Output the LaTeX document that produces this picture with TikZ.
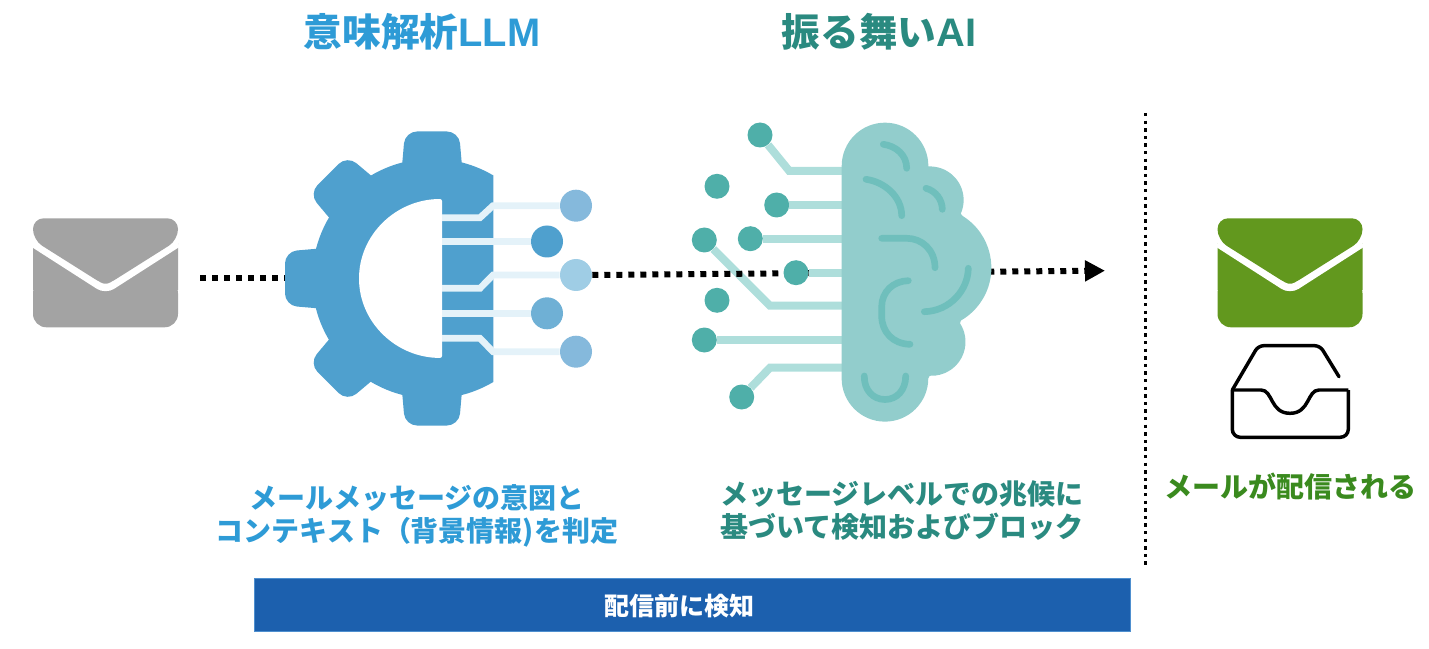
\documentclass[tikz,border=0pt]{standalone}
\usepackage{fontspec}
\setmainfont{Noto Sans CJK JP}
\newfontfamily\latinfont[Scale=1.03]{Liberation Sans}
\usetikzlibrary{arrows.meta}
\definecolor{gearblue}{HTML}{4FA0CE}
\definecolor{gearline}{HTML}{E4F2F9}
\definecolor{gdota}{HTML}{85B9DC}
\definecolor{gdotb}{HTML}{4FA0CE}
\definecolor{gdotc}{HTML}{9FCDE5}
\definecolor{gdotd}{HTML}{6FB0D5}
\definecolor{brainfill}{HTML}{92CDCC}
\definecolor{brainfold}{HTML}{6FBFBC}
\definecolor{brainline}{HTML}{AEDEDB}
\definecolor{braindot}{HTML}{4FAFA9}
\definecolor{titleblue}{HTML}{2E9BD6}
\definecolor{titleteal}{HTML}{2A8A80}
\definecolor{mailgrey}{HTML}{A3A3A3}
\definecolor{mailgreen}{HTML}{62981E}
\definecolor{textgreen}{HTML}{3A8A1E}
\definecolor{barblue}{HTML}{1C60AE}
\definecolor{baredge}{HTML}{4E8FCF}

\begin{document}
\begin{tikzpicture}[x=0.75pt,y=-0.75pt]
    \tikzstyle{gdot}=[circle,inner sep=0pt,minimum size=24pt]
    \tikzstyle{bdot}=[circle,fill=braindot,inner sep=0pt,minimum size=18.75pt]
    \tikzstyle{glink}=[gearline,line width=5pt]
    \tikzstyle{blink}=[brainline,line width=6pt]
    \tikzstyle{fold}=[brainfold,line width=5pt,line cap=round]
    \tikzstyle{flow}=[black,line width=4.5pt,dash pattern=on 4.5pt off 4.5pt]
    \tikzstyle{title}=[font=\fontsize{29}{34}\selectfont\bfseries]
    \tikzstyle{caption}=[font=\fontsize{21}{24.5}\selectfont\bfseries,align=center]
    \useasboundingbox (0,0) rectangle (1429,649);

    % titles
    \node (semtitle)[title,text=titleblue] at (422,32) {意味解析{\latinfont LLM}};
    \node (aititle)[title,text=titleteal] at (879,32) {振る舞い{\latinfont AI}};

    % mails
    \foreach \mx/\mcol in {33/mailgrey,1217.5/mailgreen} {
        \fill[\mcol,rounded corners=10pt] (\mx,280) rectangle ++(145,47.3);
        \fill[\mcol] (\mx,243.5) -- ++(72.5,46.5) -- ++(72.5,-46.5) -- ++(0,46.5) -- ++(-145,0) -- cycle;
        \draw[white,line width=5.5pt,rounded corners=6pt] (\mx,243.5) -- ++(72.5,46.5) -- ++(72.5,-46.5);
        \fill[\mcol,rounded corners=8pt] (\mx,218.3) -- ++(145,0) -- ++(0,21.7) -- ++(-72.5,45.7) -- ++(-72.5,-45.7) -- cycle;
    }

    % flow in
    \coordinate (mailout) at (200,278);
    \coordinate (gearin) at (300,278);
    \draw[flow] (mailout) -- (gearin);

    % gear
    \foreach \a in {90,135,180,225,270} {
        \fill[gearblue,rounded corners=9pt,shift={(432,278.5)},rotate=\a] (95,-31.5) -- (147,-27) -- (147,27) -- (95,31.5) -- cycle;
    }
    \fill[gearblue] (493.3,175) -- (493.3,382) arc[start angle=-59.4,end angle=-300.6,radius=90pt] -- cycle;
    \fill[white,rounded corners=1.5pt] (442,199) arc[start angle=90,end angle=270,x radius=62.25pt,y radius=59.6pt] -- cycle;
    \foreach \n/\ya/\yb/\xd/\col in {1/217.7/205.7/576/gdota,2/241.5/241.5/547/gdotb,3/288.3/275/576/gdotc,4/313.3/313.3/547/gdotd,5/338.3/351.7/576/gdota} {
        \node (g\n)[gdot,fill=\col] at (\xd,\yb) {};
        \draw[glink] (442,\ya) -- (480,\ya) -- (493,\yb) -- (g\n);
    }

    % long link first, the flow runs over it
    \coordinate (k5) at (842,305.7);
    \node (b5)[bdot] at (704.3,240) {};
    \draw[blink] (b5) -- (770,305.7) -- (k5);

    % flow out
    \coordinate (flowend) at (1105,270.7);
    \draw[flow,-{Triangle[length=15pt,width=15pt,sep=0pt]}] (g3.east) -- (flowend);

    % brain links
    \node (b1)[bdot] at (760,135) {};
    \node (b2)[bdot] at (717,186.3) {};
    \node (b3)[bdot] at (776.7,205) {};
    \node (b4)[bdot] at (750.3,238.7) {};
    \node (b6)[bdot] at (796,272.7) {};
    \node (b7)[bdot] at (717,300.3) {};
    \node (b8)[bdot] at (704.3,340) {};
    \node (b9)[bdot] at (741.7,397) {};
    \draw[blink] (b1) -- (789.3,171) -- (842,171);
    \draw[blink] (b3) -- (842,205);
    \draw[blink] (b4) -- (842,238.7);
    \draw[blink] (b6) -- (842,272.7);
    \draw[blink] (b8) -- (842,340);
    \draw[blink] (b9) -- (770,367.7) -- (842,367.7);

    % brain
    \fill[brainfill] (841.7,166) arc[start angle=180,end angle=0,radius=32.5pt]
        -- (928.3,166.5) arc[start angle=93,end angle=-24,radius=25.2pt]
        -- (962.7,216) arc[start angle=58,end angle=-60,radius=45.75pt]
        -- (960,323.3) arc[start angle=33,end angle=-93,radius=25.5pt]
        -- (928.3,378.3) arc[start angle=0,end angle=-180,radius=32.5pt] -- cycle;
    \draw[fold] (883.3,144.3) .. controls (896,146) and (906.7,155) .. (906.7,168.3);
    \draw[fold] (866,179.3) .. controls (885,182) and (901.7,197) .. (901.7,215.7);
    \draw[fold] (926,188.3) .. controls (936,191) and (942.3,200) .. (942.3,209.3);
    \draw[fold] (881.7,238.3) -- (906.7,238.3) .. controls (922,238.3) and (935,250) .. (935,267.7);
    \draw[fold] (968.3,268.3) .. controls (968,290) and (950,311) .. (924.3,311.7);
    \draw[fold] (908.3,280.7) .. controls (893,281) and (881.7,292) .. (881.7,306.7) -- (881.7,316) .. controls (881.7,332) and (893,344) .. (910,344.3);
    \draw[fold] (864.3,376) .. controls (864,390) and (873,399.5) .. (885,399.5) .. controls (897,399.5) and (905.7,390) .. (905.7,376);

    % inbox
    \draw[black,line width=2.6pt,rounded corners=6pt,line join=round] (1232.3,390) -- (1232.3,437.3) -- (1348.3,437.3) -- (1348.3,390);
    \draw[black,line width=2.6pt,line join=round] (1348.3,390) -- (1319,390) .. controls (1307,390) and (1310,413.3) .. (1290,413.3) .. controls (1270,413.3) and (1273,390) .. (1261,390) -- (1232.3,390);
    \draw[black,line width=2.6pt,line cap=round,rounded corners=4pt] (1232.3,390) -- (1258.3,345.7) -- (1320,345.7) -- (1339,376.7);

    % separator
    \coordinate (septop) at (1145.7,113);
    \coordinate (sepbot) at (1145.7,568);
    \draw[black,line width=2.6pt,dash pattern=on 2.6pt off 3.1pt] (septop) -- (sepbot);

    % captions
    \node (semtext)[caption,text=titleblue] at (417,516) {メールメッセージの意図と\\コンテキスト（背景情報)を判定};
    \node (aitext)[caption,text=titleteal] at (902,510.5) {メッセージレベルでの兆候に\\基づいて検知およびブロック};
    \node (mailtext)[caption,text=textgreen] at (1290.5,487) {メールが配信される};

    % bar
    \node (bar)[fill=barblue,draw=baredge,line width=0.75pt,inner sep=0pt,minimum width=657.25pt,minimum height=39.5pt] at (692.5,605) {};
    \node (bartext)[text=white,font=\fontsize{18.75}{22}\selectfont\bfseries] at (679,606) {配信前に検知};
\end{tikzpicture}
\end{document}
